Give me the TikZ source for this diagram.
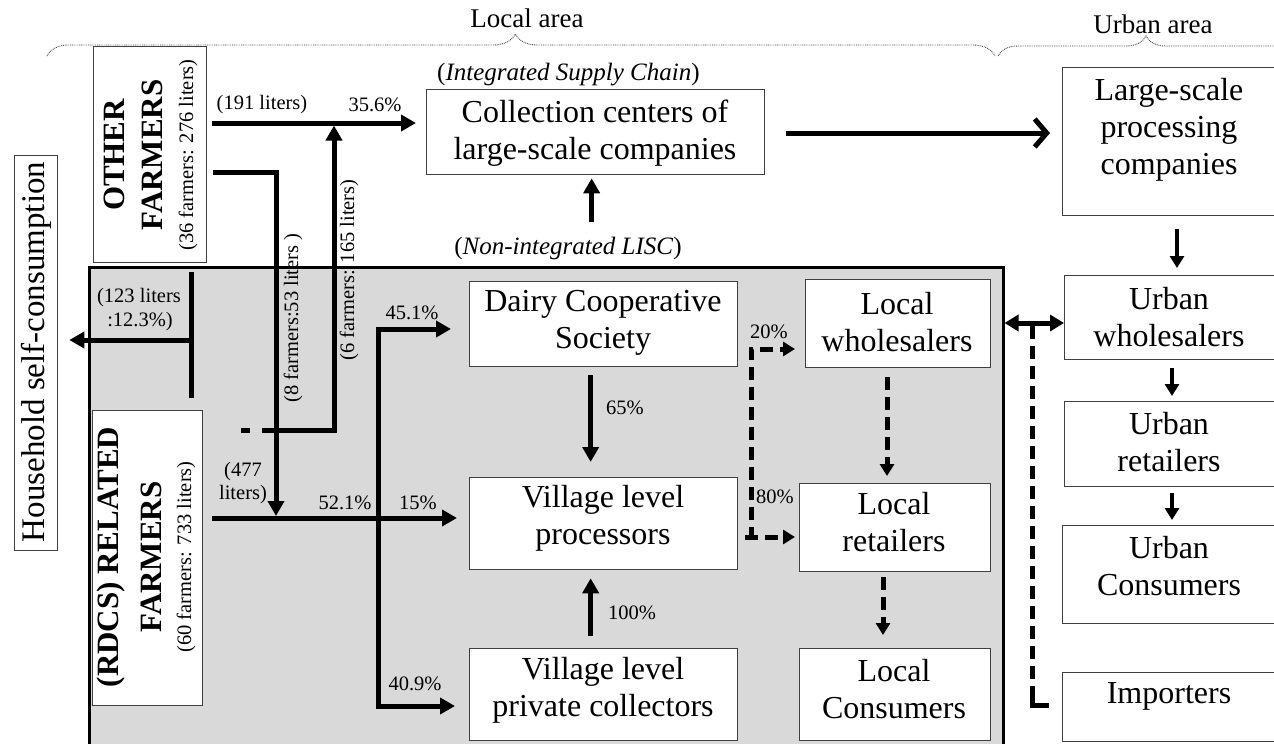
\documentclass[tikz,border=0pt]{standalone}
\usepackage{fontspec}
\setmainfont{Liberation Serif}
\usetikzlibrary{arrows.meta,decorations.pathreplacing}
\definecolor{greyfill}{HTML}{D9D9D9}
\begin{document}
\begin{tikzpicture}[x=1pt,y=-1pt,
  box/.style={draw=black!75, line width=1.3pt, fill=white, inner sep=0pt, anchor=north west},
  big/.style={font=\fontsize{32}{37}\selectfont, align=center, inner sep=0pt},
  bigb/.style={font=\fontsize{31}{36}\selectfont\bfseries, inner sep=0pt, rotate=90},
  rsmall/.style={font=\fontsize{20.5}{24}\selectfont, inner sep=0pt, rotate=90},
  lab/.style={font=\fontsize{20.5}{24}\selectfont, inner sep=0pt},
  chain/.style={font=\fontsize{25}{29}\selectfont, inner sep=0pt},
  area/.style={font=\fontsize{27}{31}\selectfont, inner sep=0pt},
  ln/.style={line width=5pt},
  arr/.style={line width=5pt, -{Triangle[length=15pt,width=16pt]}},
  sarr/.style={line width=4pt, -{Triangle[length=12pt,width=14pt]}},
  darr/.style={line width=5pt, dash pattern=on 13pt off 7pt, -{Triangle[length=12pt,width=14pt]}},
  dline/.style={line width=5pt, dash pattern=on 13pt off 7pt},
  bracestyle/.style={draw=black!70, line width=0.9pt, dash pattern=on 0.9pt off 0.9pt, decorate}
]
\clip (0,0) rectangle (1274,744);

% area braces
\draw[bracestyle, decoration={brace, amplitude=22pt, aspect=0.494}] (47,56) -- (995,56);
\draw[bracestyle, decoration={brace, amplitude=20pt, aspect=0.49}] (998,56) -- (1300,56);
\node[area] (localarea) at (527,18) {Local area};
\node[area] (urbanarea) at (1153,24) {Urban area};

% grey region
\node[draw, line width=2.5pt, fill=greyfill, minimum width=914, minimum height=520, anchor=north west, inner sep=0pt] (grey) at (88,266) {};

% labels of chains
\node[chain, anchor=west] (isc) at (437,75) {(\textit{Integrated Supply Chain})};
\node[chain] (nisc) at (568,248) {(\textit{Non-integrated LISC})};

% farmers
\node[box, minimum width=113, minimum height=216] (other) at (93,46) {};
\node[bigb] (otherA) at (114,155) {OTHER};
\node[bigb] (otherB) at (152,155) {FARMERS};
\node[rsmall] (otherC) at (188,155) {(36 farmers: 276 liters)};

\node[box, minimum width=110, minimum height=295] (rdcs) at (92,410) {};
\node[bigb] (rdcsA) at (111,557) {(RDCS) RELATED};
\node[bigb] (rdcsB) at (151,557) {FARMERS};
\node[rsmall] (rdcsC) at (186,557) {(60 farmers: 733 liters)};

\node[box, minimum width=43, minimum height=395] (hh) at (14,155) {};
\node[big, rotate=90, font=\fontsize{33}{38}\selectfont] (hhT) at (36,352) {Household self-consumption};

% local boxes
\node[box, minimum width=338, minimum height=85] (coll) at (426,89) {};
\node[big] (collT) at (595,133) {Collection centers of\\large-scale companies};

\node[box, minimum width=268, minimum height=85] (dairy) at (469,281) {};
\node[big] (dairyT) at (603,323) {Dairy Cooperative\\Society};

\node[box, minimum width=268, minimum height=92] (proc) at (469,477) {};
\node[big] (procT) at (603,518) {Village level\\processors};

\node[box, minimum width=268, minimum height=92] (pcol) at (469,648) {};
\node[big] (pcolT) at (603,690) {Village level\\private collectors};

\node[box, minimum width=185, minimum height=88] (lws) at (805,279) {};
\node[big] (lwsT) at (897,322) {Local\\wholesalers};

\node[box, minimum width=191, minimum height=88] (lrt) at (799,483) {};
\node[big] (lrtT) at (894,522) {Local\\retailers};

\node[box, minimum width=191, minimum height=92] (lcons) at (799,648) {};
\node[big] (lconsT) at (894,689) {Local\\Consumers};

% urban boxes
\node[box, minimum width=220, minimum height=148] (lsp) at (1062,67) {};
\node[big] (lspT) at (1169,130) {Large-scale\\processing\\companies};

\node[box, minimum width=218, minimum height=84] (uws) at (1064,275) {};
\node[big] (uwsT) at (1169,317) {Urban\\wholesalers};

\node[box, minimum width=218, minimum height=85] (urt) at (1064,401) {};
\node[big] (urtT) at (1169,442) {Urban\\retailers};

\node[box, minimum width=220, minimum height=98] (ucons) at (1062,525) {};
\node[big] (uconsT) at (1169,566) {Urban\\Consumers};

\node[box, minimum width=220, minimum height=69] (imp) at (1062,672) {};
\node[big] (impT) at (1169,696) {Importers};

% ---- connectors from OTHER FARMERS
\coordinate (o1) at (212,123);
\draw[arr, shorten >=10pt] (o1) -- (o1 -| coll.west);
\coordinate (o2) at (213,172);
\coordinate (c8) at (276,172);
\draw[arr] (o2) -- (c8) -- (276,516);
\coordinate (d6a) at (241,430);
\coordinate (d6b) at (250,430);
\draw[ln] (d6a) -- (d6b);
\coordinate (c6) at (262,430);
\draw[arr, shorten >=2.5pt] (c6) -- (334,430) -- (334,0 |- o1);

\node[lab] (l191) at (262,105) {(191 liters)};
\node[lab] (l356) at (375,105) {35.6\%};
\node[rsmall] (l8) at (293,318) {(8 farmers:53 liters )};
\node[rsmall] (l6) at (349,270) {(6 farmers: 165 liters)};

% ---- household
\coordinate (h1) at (191,272);
\coordinate (h2) at (191,398);
\coordinate (h3) at (191,340);
\draw[ln] (h1) -- (h2);
\draw[arr, shorten >=11pt] (h3) -- (h3 -| hh.east);
\node[lab] (l123a) at (139,298) {(123 liters};
\node[lab] (l123b) at (140,322) {:12.3\%)};

% ---- RDCS farmers
\coordinate (r1) at (212,518);
\draw[arr, shorten >=12pt] (r1) -- (r1 -| proc.west);
\coordinate (v1) at (378,329);
\coordinate (v2) at (378,706);
\draw[line width=5pt, {Triangle[length=15pt,width=16pt]}-{Triangle[length=15pt,width=16pt]}]
  (451,329) -- (v1) -- (v2) -- (455,706);
\node[lab] (l477a) at (243,472) {(477};
\node[lab] (l477b) at (243,495) {liters)};
\node[lab] (l521) at (345,503) {52.1\%};
\node[lab] (l15) at (418,503) {15\%};
\node[lab] (l451) at (412,313) {45.1\%};
\node[lab] (l409) at (415,684) {40.9\%};

% ---- inside local chain
\draw[arr, shorten <=8pt, shorten >=15pt] ([xshift=-13pt]dairy.south) -- ([xshift=-13pt]proc.north);
\node[lab] (l65) at (625,408) {65\%};
\draw[arr, shorten <=12pt, shorten >=8pt] ([xshift=-13pt]pcol.north) -- ([xshift=-13pt]proc.south);
\node[lab] (l100) at (632,613) {100\%};
\draw[arr, shorten <=44pt, shorten >=3pt] ([xshift=-4pt]coll.south |- grey.north) -- ([xshift=-4pt]coll.south);

\coordinate (dp1) at (745,537);
\coordinate (dp2) at (751,540);
\coordinate (dp3) at (751,349);
\draw[darr, shorten >=4pt] (dp1) -- (dp1 -| lrt.west);
\draw[darr, shorten >=10pt] (dp2) -- (dp3) -- (dp3 -| lws.west);
\node[lab] (l20) at (769,332) {20\%};
\node[lab] (l80) at (775,497) {80\%};

\draw[darr, shorten <=10pt, shorten >=7pt] (887,367) -- (887,0 |- lrt.north);
\draw[darr, shorten <=6pt, shorten >=13pt] (883,571) -- (883,0 |- lcons.north);

% ---- to urban
\coordinate (bg) at (786,133);
\draw[line width=5pt, -{Straight Barb[length=12pt,width=28pt]}, shorten >=12pt] (bg) -- (bg -| lsp.west);
\coordinate (dw) at (1032,323);
\draw[line width=5pt, {Triangle[length=14pt,width=16pt]}-{Triangle[length=14pt,width=16pt]}]
  (dw -| grey.east) -- (dw -| uws.west);
\draw[dline] (1032,326) -- (1032,698);
\draw[ln] (1032,694) -- (1032,705) -- ([xshift=-13pt]imp.west |- 0,705);

\draw[sarr, shorten <=14pt, shorten >=7pt] (1177,215) -- (1177,0 |- uws.north);
\draw[sarr, shorten <=9pt, shorten >=5pt] (1172,359) -- (1172,0 |- urt.north);
\draw[sarr, shorten <=7pt, shorten >=5pt] (1172,486) -- (1172,0 |- ucons.north);
\end{tikzpicture}
\end{document}
